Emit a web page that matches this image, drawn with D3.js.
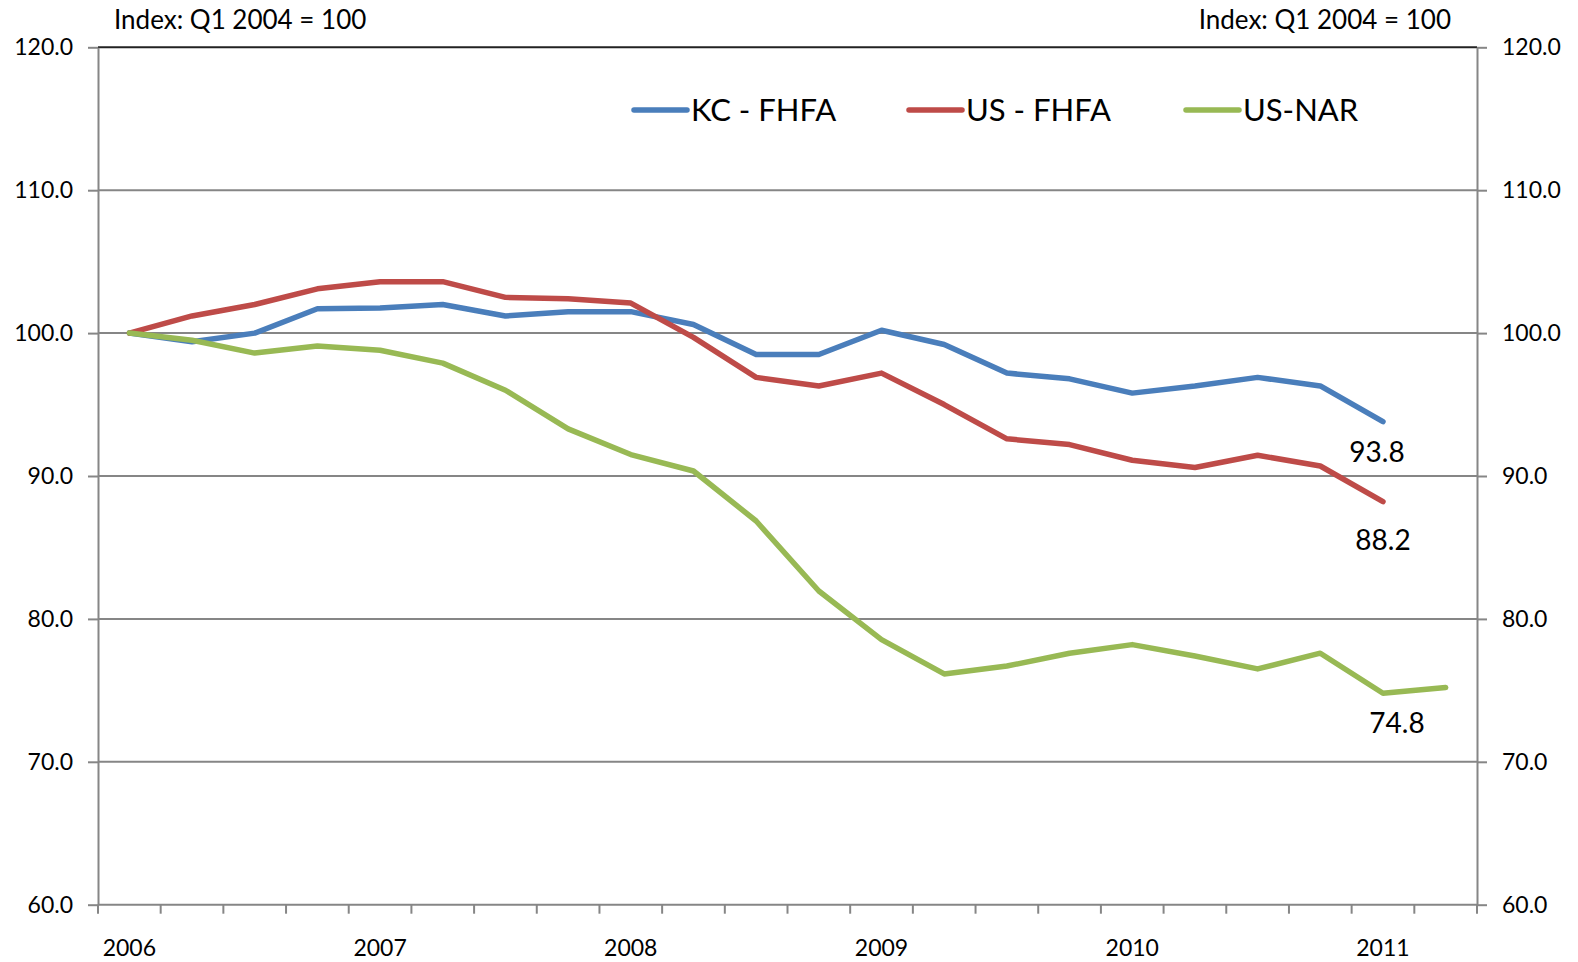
<!DOCTYPE html>
<html>
<head>
<meta charset="utf-8">
<script src="https://cdn.jsdelivr.net/npm/d3@7"></script>
<style>
  body { margin: 0; background: #fff; }
  svg { display: block; font-family: Lato, "Open Sans", sans-serif; }
</style>
</head>
<body>
<script>
// quarters 2006Q1 .. 2011Q2
var quarters = ["2006Q1", "2006Q2", "2006Q3", "2006Q4", "2007Q1", "2007Q2", "2007Q3", "2007Q4",
    "2008Q1", "2008Q2", "2008Q3", "2008Q4", "2009Q1", "2009Q2", "2009Q3", "2009Q4",
    "2010Q1", "2010Q2", "2010Q3", "2010Q4", "2011Q1", "2011Q2"];

var kcFhfa = [100.0, 99.4, 100.0, 101.7, 101.75, 102.0, 101.2, 101.5, 101.5, 100.6, 98.5,
    98.5, 100.2, 99.2, 97.2, 96.8, 95.8, 96.3, 96.9, 96.3, 93.8];
var usFhfa = [100.0, 101.2, 102.0, 103.1, 103.6, 103.6, 102.5, 102.4, 102.1, 99.7, 96.9,
    96.3, 97.2, 95.0, 92.6, 92.2, 91.1, 90.6, 91.45, 90.7, 88.2];
var usNar = [100.0, 99.5, 98.6, 99.1, 98.8, 97.9, 96.0, 93.3, 91.5, 90.35, 86.85,
    81.95, 78.55, 76.15, 76.7, 77.6, 78.2, 77.4, 76.5, 77.6, 74.8, 75.2];

var yTicks = [60, 70, 80, 90, 100, 110, 120];

var series = [
    {name: "KC - FHFA", values: kcFhfa, color: "#4a7ebb", legendX: 634},
    {name: "US - FHFA", values: usFhfa, color: "#be4b48", legendX: 909},
    {name: "US-NAR", values: usNar, color: "#98b954", legendX: 1186}
];

// end-of-line labels (series index, point index)
var endLabels = [
    {s: 0, i: 20, dx: -6, dy: 33},
    {s: 1, i: 20, dx: 0, dy: 41},
    {s: 2, i: 20, dx: 14, dy: 33}
];

(function() {
    var width = 1578, height = 962;
    var left = 98, right = 1477, plotTop = 47.3, bottom = 904.7;

    var svg = d3.select("body").append("svg")
        .attr("width", width)
        .attr("height", height);

    var x = d3.scaleBand().domain(quarters).range([left, right]);
    var y = d3.scaleLinear().domain([60, 120]).range([bottom, plotTop]);

    function cx(i) { return x(quarters[i]) + x.bandwidth() / 2; }

    // gridlines
    svg.selectAll(".grid")
        .data(yTicks.filter(function(d) { return d > 60; }))
        .enter()
        .append("line")
        .attr("x1", left).attr("x2", right)
        .attr("y1", function(d) { return y(d); })
        .attr("y2", function(d) { return y(d); })
        .attr("stroke", function(d) { return d === 120 ? "#222" : "#868686"; })
        .attr("stroke-width", 2);

    var fmt = d3.format(".1f");
    var leftAxis = svg.append("g")
        .attr("transform", "translate(" + left + ",0)")
        .call(d3.axisLeft(y).tickValues(yTicks).tickSize(10).tickSizeOuter(0).tickFormat(fmt));
    var rightAxis = svg.append("g")
        .attr("transform", "translate(" + right + ",0)")
        .call(d3.axisRight(y).tickValues(yTicks).tickSize(10).tickSizeOuter(0).tickFormat(fmt));

    [leftAxis, rightAxis].forEach(function(g) {
        g.select(".domain").attr("stroke", "#868686").attr("stroke-width", 2);
        g.selectAll(".tick line").attr("stroke", "#868686").attr("stroke-width", 2);
        g.selectAll(".tick text").attr("font-size", 23).attr("fill", "#000")
            .attr("font-family", "Lato, sans-serif");
    });
    leftAxis.selectAll(".tick text").attr("x", -25);
    rightAxis.selectAll(".tick text").attr("x", 25);

    // bottom axis: ticks on category boundaries
    var bounds = quarters.map(function(q) { return x(q); }).concat([right]);
    svg.append("line")
        .attr("x1", left).attr("x2", right)
        .attr("y1", bottom).attr("y2", bottom)
        .attr("stroke", "#868686").attr("stroke-width", 2);
    svg.selectAll(".xtick")
        .data(bounds)
        .enter()
        .append("line")
        .attr("x1", function(d) { return d; })
        .attr("x2", function(d) { return d; })
        .attr("y1", bottom).attr("y2", bottom + 9)
        .attr("stroke", "#868686").attr("stroke-width", 2);

    svg.selectAll(".xlabel")
        .data(quarters.filter(function(q) { return /Q1$/.test(q); }))
        .enter()
        .append("text")
        .attr("x", function(d) { return x(d) + x.bandwidth() / 2; })
        .attr("y", bottom + 51)
        .attr("text-anchor", "middle")
        .attr("font-size", 23)
        .text(function(d) { return d.slice(0, 4); });

    // axis titles
    svg.append("text").attr("x", 114).attr("y", 29).attr("font-size", 26)
        .text("Index: Q1 2004 = 100");
    svg.append("text").attr("x", 1451).attr("y", 29).attr("font-size", 26)
        .attr("text-anchor", "end")
        .text("Index: Q1 2004 = 100");

    // lines
    var line = d3.line()
        .x(function(d, i) { return cx(i); })
        .y(function(d) { return y(d); });

    svg.selectAll(".series")
        .data(series)
        .enter()
        .append("path")
        .attr("d", function(d) { return line(d.values); })
        .attr("fill", "none")
        .attr("stroke", function(d) { return d.color; })
        .attr("stroke-width", 5.5)
        .attr("stroke-linejoin", "round")
        .attr("stroke-linecap", "round");

    // end labels
    svg.selectAll(".endlabel")
        .data(endLabels)
        .enter()
        .append("text")
        .attr("x", function(d) { return cx(d.i) + d.dx; })
        .attr("y", function(d) { return y(series[d.s].values[d.i]) + d.dy; })
        .attr("text-anchor", "middle")
        .attr("dominant-baseline", "middle")
        .attr("font-size", 28)
        .text(function(d) { return fmt(series[d.s].values[d.i]); });

    // legend
    var legend = svg.selectAll(".legend")
        .data(series)
        .enter()
        .append("g")
        .attr("transform", function(d) { return "translate(" + d.legendX + ",110)"; });
    legend.append("line")
        .attr("x1", 0).attr("x2", 53)
        .attr("stroke", function(d) { return d.color; })
        .attr("stroke-width", 5.5)
        .attr("stroke-linecap", "round");
    legend.append("text")
        .attr("x", 57)
        .attr("dy", "0.35em")
        .attr("font-size", 31)
        .text(function(d) { return d.name; });
})();
</script>
</body>
</html>
